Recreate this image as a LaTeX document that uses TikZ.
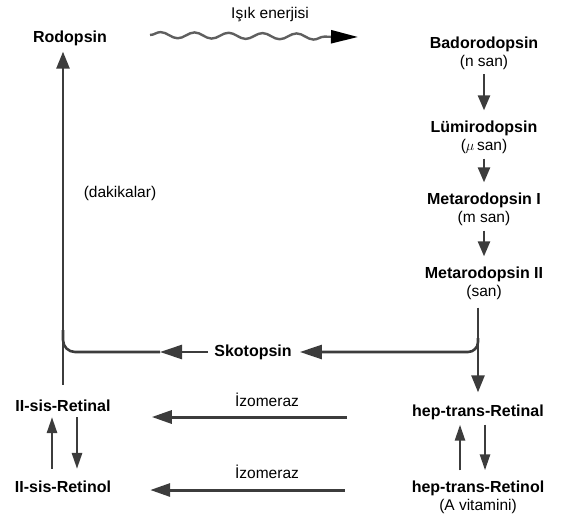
\documentclass[tikz,border=0pt]{standalone}
\usepackage{fontspec}
\setmainfont{Liberation Sans}
\usetikzlibrary{arrows.meta,positioning,decorations.pathmorphing}
\definecolor{arrow color}{RGB}{60,60,60}
\definecolor{wave color}{RGB}{95,95,95}

\begin{document}
\begin{tikzpicture}[
	x=1pt, y=-1pt,
	stage/.style={font=\fontsize{16}{18}\selectfont\bfseries, inner sep=2pt},
	note/.style={font=\fontsize{15.5}{17}\selectfont, inner sep=1pt},
	line/.style={draw=arrow color, line width=2.6pt},
	arr/.style={line, -{Triangle[length=17pt,width=13pt]}},
	chain/.style={line, line width=2.5pt, -{Triangle[length=15pt,width=12pt]},
		shorten <=4pt, shorten >=8pt},
	small/.style={line, line width=2.6pt, -{Triangle[length=16pt,width=10pt]}},
	wave/.style={draw=wave color, line width=2.4pt, decorate,
		decoration={snake, segment length=34pt, amplitude=3pt, post length=28pt},
		-{Triangle[length=27pt,width=13pt,color=black]}}]

\useasboundingbox (0,0) rectangle (561,525);

% Light path
\node [stage] (rodopsin) at (70,38) {Rodopsin};
\node [note] (isik) at (270,15) {Işık enerjisi};
\coordinate (w0) at (150,35);
\coordinate (w1) at (358,37);
\draw [wave] (w0) -- (w1);

% Bleaching chain
\node [stage] (bado) at (484,44) {Badorodopsin};
\node [note, below=0pt of bado] (bado-s) {(n san)};
\node [stage] (lumi) at (484,128) {Lümirodopsin};
\node [note, below=0pt of lumi] (lumi-s) {($\mu$\,san)};
\node [stage] (meta1) at (484,200) {Metarodopsin I};
\node [note, below=0pt of meta1] (meta1-s) {(m san)};
\node [stage] (meta2) at (484,274) {Metarodopsin II};
\node [note, below=0pt of meta2] (meta2-s) {(san)};

\foreach \a/\b in {bado-s/lumi, lumi-s/meta1, meta1-s/meta2} {
    \draw [chain] (\a) -- (\b);
}

% Retinal / retinol
\node [stage] (retinal11) at (63,406) {II-sis-Retinal};
\node [stage] (retinol11) at (63,487) {II-sis-Retinol};
\node [stage] (retinalT) at (478,412) {hep-trans-Retinal};
\node [stage] (retinolT) at (478,488) {hep-trans-Retinol};
\node [note, below=0pt of retinolT] (retinolT-s) {(A vitamini)};

\draw [arr, shorten <=7pt, shorten >=10pt] (meta2-s.south -| retinalT) -- (retinalT);

% Skotopsin branch
\node [stage] (skotopsin) at (253,352) {Skotopsin};
\coordinate (split) at (478,338);
\draw [arr, -{Triangle[length=22pt,width=14pt]}, rounded corners=10pt, shorten >=6pt] (split) |- (skotopsin.east);
\coordinate (skL) at (160,352);
\coordinate (merge) at (63,330);
\draw [arr, -{Triangle[length=22pt,width=14pt]}, shorten <=4pt] (skotopsin.west) -- (skL);
\draw [line, rounded corners=12pt] (skL) -| (merge);

\node [note] (dakika) at (120,193) {(dakikalar)};
\draw [arr, shorten <=13pt, shorten >=4pt] (retinal11.north) -- (retinal11.north |- rodopsin.south);

% Isomerase
\node [note] (izo1) at (267,400) {İzomeraz};
\node [note] (izo2) at (267,472) {İzomeraz};
\draw [arr, line width=3pt, -{Triangle[length=20pt,width=13pt]}, shorten <=63pt, shorten >=39pt]
    ([yshift=-5pt]retinalT.west) -- ([yshift=-11pt]retinal11.east);
\draw [arr, line width=3pt, -{Triangle[length=20pt,width=13pt]}, shorten <=65pt, shorten >=37pt]
    ([yshift=-2pt]retinolT.west) -- ([yshift=-3pt]retinol11.east);

% Reversible steps
\draw [small, shorten <=10pt, shorten >=3pt] ([xshift=-11pt]retinol11.north) -- ([xshift=-11pt]retinal11.south);
\draw [small, shorten <=3pt, shorten >=10pt] ([xshift=14pt]retinal11.south) -- ([xshift=14pt]retinol11.north);
\draw [small, shorten <=8pt, shorten >=3pt] ([xshift=-18pt]retinolT.north) -- ([xshift=-18pt]retinalT.south);
\draw [small, shorten <=3pt, shorten >=8pt] ([xshift=7pt]retinalT.south) -- ([xshift=7pt]retinolT.north);

\end{tikzpicture}
\end{document}
